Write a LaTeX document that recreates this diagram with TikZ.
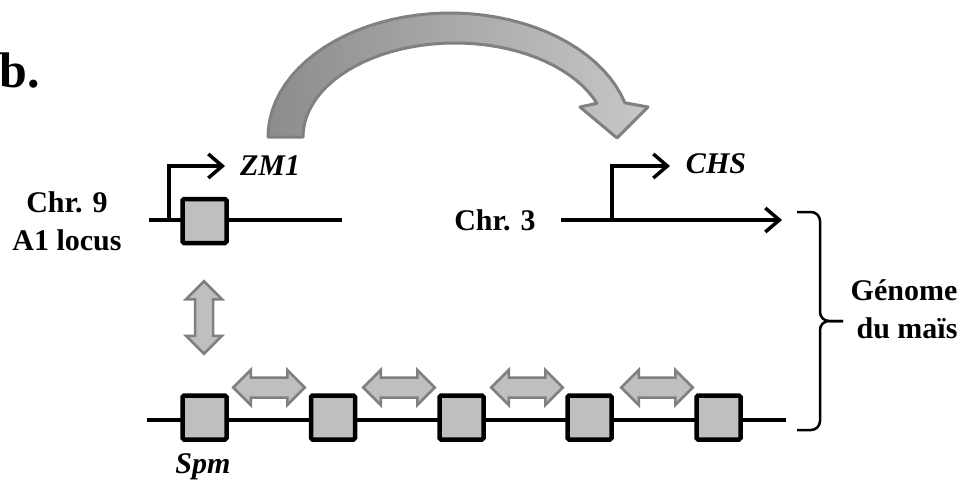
\documentclass[tikz,border=0pt]{standalone}
\usepackage{fontspec}
\setmainfont{Liberation Serif}
\usepackage{tikz}
\usetikzlibrary{arrows.meta}
\usetikzlibrary{positioning}
\usetikzlibrary{shapes.arrows}

\begin{document}
\begin{tikzpicture}[x=1pt,y=-1pt,
  every node/.style={font=\fontsize{30}{36}\selectfont\bfseries,inner sep=0pt},
  chrom/.style={line width=3.5pt},
  tss/.style={line width=3.5pt,-{Straight Barb[length=14pt,width=24pt]}},
  spm/.style={draw,line width=4.5pt,fill=black!25,rounded corners=1.5pt,minimum width=44pt,minimum height=44pt},
  move/.style={double arrow,draw=black!50,line width=2.5pt,fill=black!25,inner xsep=0pt,inner ysep=8.75pt,double arrow head extend=7.5pt,minimum width=32.5pt,minimum height=71.5pt}]
  \useasboundingbox (0,0) rectangle (971,487);

  \node[anchor=base west,font=\fontsize{50}{60}\selectfont\bfseries] (lbl) at (-1,88) {b.};

  % big arrow ZM1 -> CHS
  \shadedraw[left color=black!45,right color=black!22,draw=black!50,line width=3pt,line join=round]
    plot[domain=180:16,samples=40] ({450+182*cos(\x)},{137-124*sin(\x)})
    -- (648,107) -- (617,138) -- (580,107)
    -- plot[domain=21:180,samples=40] ({455+152*cos(\x)},{137-94*sin(\x)}) -- cycle;

  % chromosome 9
  \node[anchor=base] (chr9) at (67,212) {Chr. 9};
  \node[anchor=base] (locus) at (67,250) {A1 locus};
  \coordinate (c9a) at (149,220);
  \coordinate (c9b) at (342,220);
  \coordinate (tss9) at (169,220);
  \coordinate (zmend) at (225,166);
  \draw[chrom](c9a)--(c9b);
  \draw[tss](tss9)|-(zmend);
  \node[anchor=base,font=\fontsize{30}{36}\selectfont\bfseries\itshape] (zm) at (270,175) {ZM1};
  \node[spm] (a1) at (204.5,221) {};

  % chromosome 3
  \node[anchor=base] (chr3) at (495,230) {Chr. 3};
  \coordinate (c3a) at (561,220);
  \coordinate (c3b) at (782,220);
  \coordinate (tss3) at (612,220);
  \coordinate (chsend) at (670,166);
  \draw[tss](c3a)--(c3b);
  \draw[tss](tss3)|-(chsend);
  \node[anchor=base,font=\fontsize{30}{36}\selectfont\bfseries\itshape] (chs) at (716,173) {CHS};

  % Spm elements
  \node[move,rotate=90,inner ysep=7.75pt,minimum width=33.5pt,minimum height=72.5pt,double arrow head extend=9pt] (jump) at (204,317.5) {};
  \coordinate (sa) at (147,420);
  \coordinate (sb) at (786,420);
  \draw[chrom](sa)--(sb);
  \node[spm] (s1) at (204.5,417.5) {};
  \node[spm] (s2) at (333,417.5) {};
  \node[spm] (s3) at (461.5,417.5) {};
  \node[spm] (s4) at (589.5,417.5) {};
  \node[spm] (s5) at (718.5,417.5) {};
  \node[move] (m1) at (269,387.5) {};
  \node[move] (m2) at (399,387.5) {};
  \node[move] (m3) at (527,387.5) {};
  \node[move] (m4) at (657,387.5) {};
  \node[anchor=base,font=\fontsize{30}{36}\selectfont\bfseries\itshape] (spm) at (203,473) {Spm};

  % genome bracket
  \coordinate (gtop) at (797,212);
  \coordinate (gbot) at (797,430);
  \coordinate (gtip) at (843,321);
  \draw[line width=2.5pt,rounded corners=9pt](gtop)-|(820,321)--(gtip);
  \draw[line width=2.5pt,rounded corners=9pt](gbot)-|(820,321)--(gtip);
  \node[anchor=base] (gen) at (904,300) {Génome};
  \node[anchor=base] (mais) at (907,338) {du maïs};
\end{tikzpicture}
\end{document}
